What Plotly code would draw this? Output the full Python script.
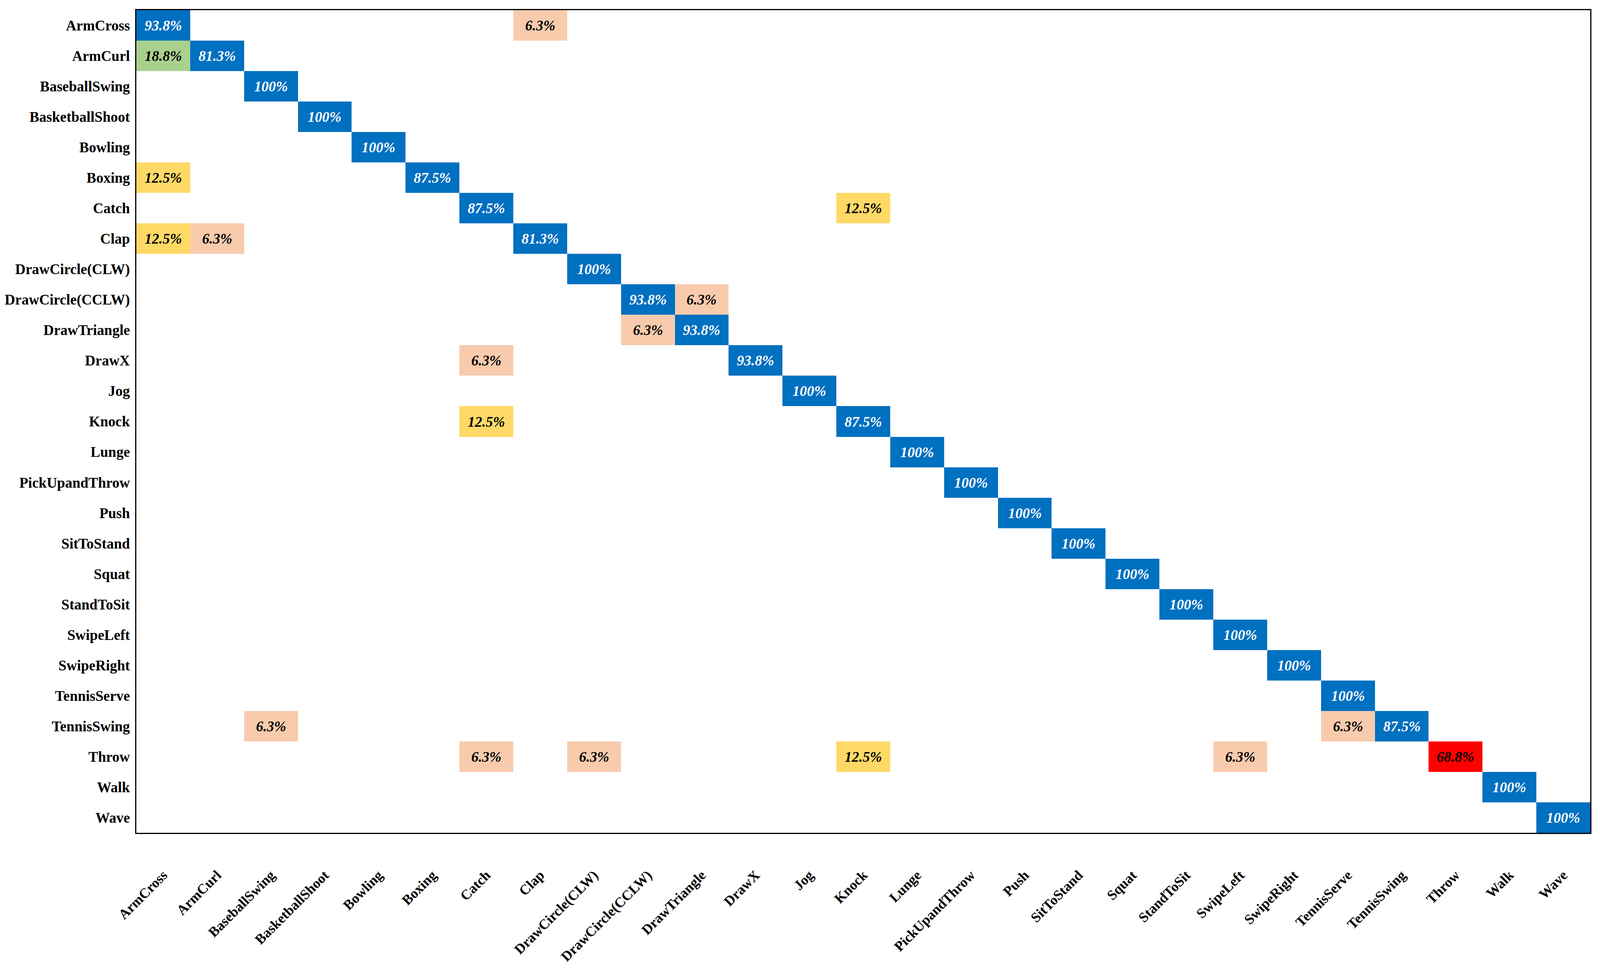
import plotly.graph_objects as go
import numpy as np

classes = ["ArmCross", "ArmCurl", "BaseballSwing", "BasketballShoot", "Bowling", "Boxing",
           "Catch", "Clap", "DrawCircle(CLW)", "DrawCircle(CCLW)", "DrawTriangle", "DrawX",
           "Jog", "Knock", "Lunge", "PickUpandThrow", "Push", "SitToStand", "Squat",
           "StandToSit", "SwipeLeft", "SwipeRight", "TennisServe", "TennisSwing", "Throw",
           "Walk", "Wave"]

# diagonal (correct) percentages, one per class
diag_pct = [93.8, 81.3, 100, 100, 100, 87.5, 87.5, 81.3, 100, 93.8, 93.8, 93.8, 100, 87.5,
            100, 100, 100, 100, 100, 100, 100, 100, 100, 87.5, 68.8, 100, 100]
# off-diagonal confusions: true class, predicted class, percent
off_true = ["ArmCross", "ArmCurl", "Boxing", "Catch", "Clap", "Clap", "DrawCircle(CCLW)",
            "DrawTriangle", "DrawX", "Knock", "TennisSwing", "TennisSwing",
            "Throw", "Throw", "Throw", "Throw"]
off_pred = ["Clap", "ArmCross", "ArmCross", "Knock", "ArmCross", "ArmCurl", "DrawTriangle",
            "DrawCircle(CCLW)", "Catch", "Catch", "BaseballSwing", "TennisServe",
            "Catch", "DrawCircle(CLW)", "Knock", "SwipeLeft"]
off_pct = [6.3, 18.8, 12.5, 12.5, 12.5, 6.3, 6.3, 6.3, 6.3, 12.5, 6.3, 6.3,
           6.3, 6.3, 12.5, 6.3]

n = len(classes)
M = np.full((n, n), np.nan)
for i, v in enumerate(diag_pct):
    M[i, i] = v
for t, p, v in zip(off_true, off_pred, off_pct):
    M[classes.index(t), classes.index(p)] = v

def fmt(v):
    return "<b><i>%g%%</i></b>" % v

hi = np.where(M >= 75, M, np.nan)
lo = np.where(M < 75, M, np.nan)
hi_text = [[fmt(v) if not np.isnan(v) else "" for v in row] for row in hi]
lo_text = [[fmt(v) if not np.isnan(v) else "" for v in row] for row in lo]

BLUE = "#0070C0"
PEACH = "#F8CBAD"
YELLOW = "#FFD966"
GREEN = "#A9D18E"
RED = "#FF0000"
lo_scale = [[0, PEACH], [0.1, PEACH], [0.1, YELLOW], [0.15, YELLOW], [0.15, GREEN],
            [0.5, GREEN], [0.5, RED], [1, RED]]

FONT = "Liberation Serif"

fig = go.Figure()
fig.add_trace(go.Heatmap(
    z=lo, x=classes, y=classes, text=lo_text, texttemplate="%{text}",
    colorscale=lo_scale, zmin=0, zmax=100, showscale=False,
    textfont=dict(family=FONT, size=37, color="black"), hoverinfo="skip"))
fig.add_trace(go.Heatmap(
    z=hi, x=classes, y=classes, text=hi_text, texttemplate="%{text}",
    colorscale=[[0, BLUE], [1, BLUE]], zmin=0, zmax=100, showscale=False,
    textfont=dict(family=FONT, size=37, color="white"), hoverinfo="skip"))

fig.update_layout(
    width=4096, height=2492, autosize=False,
    margin=dict(l=349, r=25, t=26, b=359),
    plot_bgcolor="white", paper_bgcolor="white",
    font=dict(family=FONT, color="black"),
)
fig.update_xaxes(
    type="category", tickangle=-45, showgrid=False, zeroline=False,
    showline=True, linecolor="black", linewidth=3, mirror=True,
    ticks="", ticklabelstandoff=70, automargin=False,
    tickfont=dict(family=FONT, size=36, color="black", weight="bold"),
)
fig.update_yaxes(
    type="category", autorange="reversed", showgrid=False, zeroline=False,
    showline=True, linecolor="black", linewidth=3, mirror=True,
    ticks="", ticklabelstandoff=6, automargin=False,
    tickfont=dict(family=FONT, size=37, color="black", weight="bold"),
)

fig.write_html(
    "out.html",
    config={"displayModeBar": False},
    post_script="document.body.style.margin='0';document.body.style.overflow='hidden';",
)
